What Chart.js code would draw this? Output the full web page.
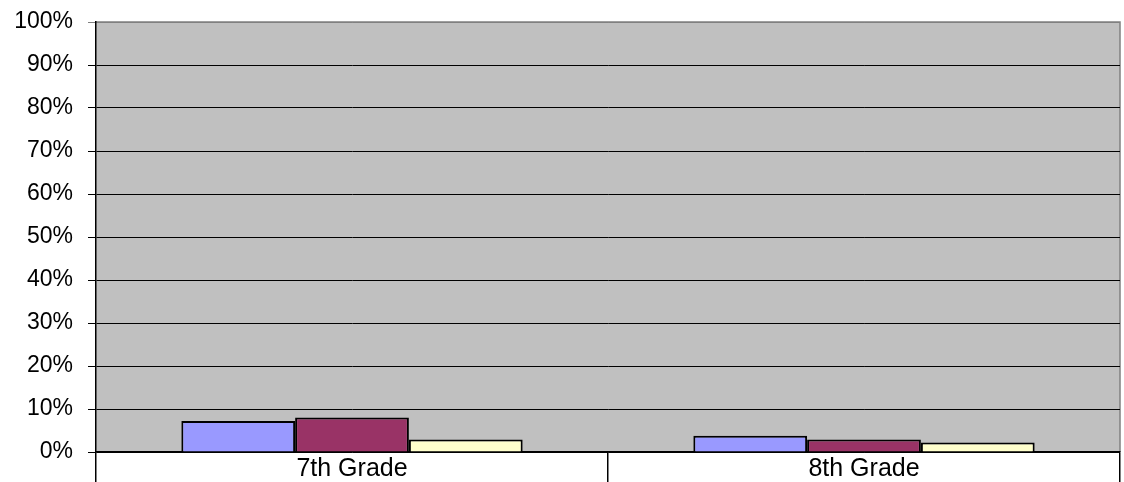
<!DOCTYPE html>
<html>
<head>
<meta charset="utf-8">
<script src="https://cdn.jsdelivr.net/npm/chart.js@4/dist/chart.umd.min.js"></script>
<style>
  html, body { margin: 0; padding: 0; background: #ffffff; }
  #gradeChart { display: block; }
</style>
</head>
<body>
<canvas id="gradeChart" width="1124" height="482"></canvas>
<script>
const grades = ['7th Grade', '8th Grade'];

const series1 = [7.2, 3.8];
const series2 = [8.0, 2.9];
const series3 = [2.9, 2.2];

const percentTicks = [0, 10, 20, 30, 40, 50, 60, 70, 80, 90, 100];

// gray plot area + gray top/right frame
const plotArea = {
  id: 'plotArea',
  beforeDraw(chart) {
    const { ctx, chartArea: a } = chart;
    ctx.save();
    ctx.fillStyle = '#c0c0c0';
    ctx.fillRect(a.left, a.top, a.right - a.left, a.bottom - a.top);
    ctx.strokeStyle = '#808080';
    ctx.lineWidth = 1.5;
    ctx.beginPath();
    ctx.moveTo(a.left, a.top);
    ctx.lineTo(a.right, a.top);
    ctx.lineTo(a.right, a.bottom);
    ctx.stroke();
    ctx.restore();
  }
};

const gradeChart = document.getElementById('gradeChart');

new Chart(gradeChart, {
  type: 'bar',

  data: {
    labels: grades,

    datasets: [
      {
        label: 'Series 1',
        data: series1,
        backgroundColor: '#9999ff',
        borderColor: '#000000',
        borderWidth: 2
      },
      {
        label: 'Series 2',
        data: series2,
        backgroundColor: '#993366',
        borderColor: '#000000',
        borderWidth: 2
      },
      {
        label: 'Series 3',
        data: series3,
        backgroundColor: '#ffffcc',
        borderColor: '#000000',
        borderWidth: 2
      }
    ]
  },

  options: {
    responsive: false,
    animation: false,

    layout: {
      padding: { top: 22, right: 4, left: 0, bottom: 0 }
    },

    datasets: {
      bar: {
        categoryPercentage: 2 / 3,
        barPercentage: 1.0
      }
    },

    scales: {
      x: {
        offset: true,
        grid: {
          offset: true,
          drawOnChartArea: false,
          drawTicks: true,
          tickLength: 30,
          color: '#000000',
          lineWidth: 1.5
        },
        border: { display: true, color: '#000000', width: 1.5 },
        ticks: {
          color: '#000000',
          padding: -28,
          font: { family: '"Liberation Sans", Arial, sans-serif', size: 25 }
        },
        afterFit(scale) {
          scale.height = 30;
          scale.paddingLeft = 0;
          scale.paddingRight = 0;
        }
      },

      y: {
        min: 0,
        max: 100,
        afterBuildTicks(scale) {
          scale.ticks = percentTicks.map(v => ({ value: v }));
        },
        grid: {
          color: ctx => (ctx.tick && ctx.tick.value === 100 ? '#808080' : '#000000'),
          lineWidth: 1,
          tickLength: 8
        },
        border: { display: true, color: '#000000', width: 1.5 },
        ticks: {
          color: '#000000',
          padding: 15,
          font: { family: '"Liberation Sans", Arial, sans-serif', size: 23 },
          callback: value => value + '%'
        },
        afterFit(scale) {
          scale.width = 96;
          scale.paddingTop = 0;
          scale.paddingBottom = 0;
        }
      }
    },

    plugins: {
      legend: { display: false },
      tooltip: { enabled: false }
    }
  },

  plugins: [plotArea]
});
</script>
</body>
</html>
